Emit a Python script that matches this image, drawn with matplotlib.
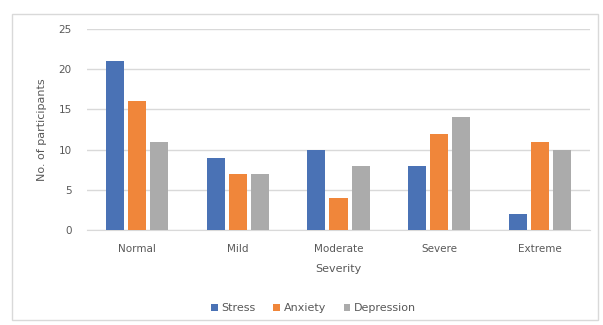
import matplotlib
matplotlib.use("Agg")
import matplotlib.pyplot as plt
import numpy as np
from matplotlib.patches import Rectangle

categories = ["Normal", "Mild", "Moderate", "Severe", "Extreme"]
series_names = ["Stress", "Anxiety", "Depression"]
stress = [21, 9, 10, 8, 2]
anxiety = [16, 7, 4, 12, 11]
depression = [11, 7, 8, 14, 10]
yticks = [0, 5, 10, 15, 20, 25]

colors = ["#4A72B5", "#F0863A", "#ABABAB"]
txt = "#595959"

plt.rcParams['font.family'] = ['DejaVu Sans']

fig = plt.figure(figsize=(6.03, 3.25), dpi=100)
fig.patches.append(Rectangle((12/603, 1-320/325), (598-12)/603, (320-14)/325,
                             transform=fig.transFigure, fill=False,
                             edgecolor="#D9D9D9", linewidth=1.0))
ax = fig.add_axes([87/603, 1-230/325, (590-87)/603, (230-29)/325])

x = np.arange(len(categories))
w = 0.18
step = 0.22
for i, (vals, name) in enumerate(zip([stress, anxiety, depression], series_names)):
    ax.bar(x + (i - 1) * step, vals, width=w, color=colors[i], label=name, zorder=3)

ax.set_xlim(-0.5, len(categories) - 0.5)
ax.set_ylim(0, 25)
ax.set_yticks(yticks)
ax.set_xticks(x)
ax.set_xticklabels(categories)
ax.grid(axis='y', color="#D9D9D9", linewidth=1.0, zorder=0)
for s in ["top", "right", "left"]:
    ax.spines[s].set_visible(False)
ax.spines["bottom"].set_color("#D9D9D9")
ax.tick_params(axis='both', length=0, labelsize=7.5, colors=txt)
ax.tick_params(axis='x', pad=10)
ax.tick_params(axis='y', pad=11)
ax.set_xlabel("Severity", fontsize=8, color=txt, labelpad=7)
ax.set_ylabel("No. of participants", fontsize=8, color=txt, labelpad=8)

fig.legend(loc="center", bbox_to_anchor=(0.52, 1-308/325), ncol=3, frameon=False,
           fontsize=8, labelcolor=txt, handlelength=0.6, handleheight=0.6,
           handletextpad=0.3, columnspacing=1.6)

fig.savefig("out.png", dpi=100)
